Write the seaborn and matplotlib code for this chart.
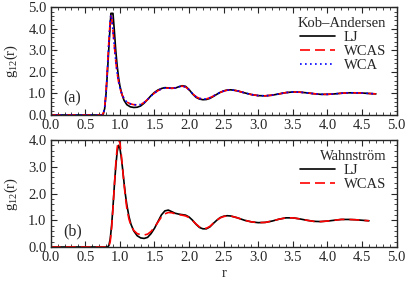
import matplotlib
matplotlib.use("Agg")
import matplotlib.pyplot as plt
import seaborn as sns
from matplotlib.ticker import MultipleLocator, FormatStrFormatter

# Kob-Andersen g_12(r)
r_ka = [0.00, 0.70, 0.74, 0.76, 0.78, 0.80, 0.82, 0.84, 0.86, 0.87, 0.88, 0.89, 0.90,
        0.92, 0.94, 0.96, 0.98, 1.00, 1.03, 1.06, 1.10, 1.15, 1.20, 1.25, 1.30, 1.35,
        1.40, 1.45, 1.50, 1.55, 1.60, 1.65, 1.70, 1.75, 1.80, 1.85, 1.90, 1.95, 2.00,
        2.05, 2.10, 2.15, 2.20, 2.25, 2.30, 2.35, 2.40, 2.45, 2.50, 2.55, 2.60, 2.65,
        2.70, 2.80, 2.90, 3.00, 3.10, 3.20, 3.30, 3.40, 3.50, 3.60, 3.70, 3.80, 3.90,
        4.00, 4.10, 4.20, 4.30, 4.40, 4.50, 4.60, 4.70]
g_ka_lj = [0.00, 0.00, 0.00, 0.05, 0.30, 1.00, 2.00, 3.10, 4.20, 4.72, 4.72, 4.72, 4.72,
           3.90, 3.00, 2.30, 1.75, 1.35, 0.95, 0.68, 0.48, 0.38, 0.35, 0.36, 0.42, 0.55,
           0.72, 0.90, 1.05, 1.16, 1.23, 1.27, 1.26, 1.24, 1.25, 1.31, 1.36, 1.33, 1.18,
           0.98, 0.82, 0.74, 0.71, 0.72, 0.77, 0.86, 0.96, 1.05, 1.12, 1.16, 1.17, 1.15,
           1.12, 1.03, 0.95, 0.90, 0.89, 0.92, 0.98, 1.04, 1.07, 1.06, 1.03, 0.99, 0.96,
           0.96, 0.98, 1.01, 1.03, 1.03, 1.02, 1.00, 0.98]
g_ka_wcas = [0.00, 0.00, 0.00, 0.08, 0.35, 1.10, 2.20, 3.40, 4.40, 4.60, 4.50, 4.25, 3.90,
             3.20, 2.50, 1.95, 1.55, 1.25, 0.95, 0.75, 0.60, 0.52, 0.48, 0.47, 0.49, 0.58,
             0.72, 0.88, 1.02, 1.13, 1.21, 1.25, 1.25, 1.24, 1.26, 1.31, 1.34, 1.30, 1.17,
             0.99, 0.85, 0.77, 0.74, 0.75, 0.80, 0.88, 0.97, 1.05, 1.11, 1.15, 1.16, 1.15,
             1.12, 1.03, 0.95, 0.90, 0.89, 0.92, 0.98, 1.04, 1.07, 1.06, 1.03, 0.99, 0.96,
             0.96, 0.98, 1.01, 1.03, 1.03, 1.02, 1.00, 0.98]
g_ka_wca = [0.00, 0.00, 0.00, 0.07, 0.33, 1.05, 2.15, 3.35, 4.40, 4.65, 4.52, 4.25, 3.90,
            3.20, 2.52, 1.97, 1.57, 1.27, 0.96, 0.76, 0.60, 0.52, 0.48, 0.47, 0.49, 0.58,
            0.72, 0.88, 1.02, 1.13, 1.21, 1.25, 1.25, 1.24, 1.26, 1.31, 1.34, 1.30, 1.17,
            0.99, 0.85, 0.77, 0.74, 0.75, 0.80, 0.88, 0.97, 1.05, 1.11, 1.15, 1.16, 1.15,
            1.12, 1.03, 0.95, 0.90, 0.89, 0.92, 0.98, 1.04, 1.07, 1.06, 1.03, 0.99, 0.96,
            0.96, 0.98, 1.01, 1.03, 1.03, 1.02, 1.00, 0.98]

# Wahnstrom g_12(r)
r_wa = [0.00, 0.80, 0.82, 0.84, 0.86, 0.88, 0.90, 0.92, 0.94, 0.96, 0.98, 1.00, 1.02,
        1.04, 1.06, 1.08, 1.10, 1.13, 1.16, 1.20, 1.25, 1.30, 1.35, 1.40, 1.45, 1.50,
        1.55, 1.60, 1.65, 1.70, 1.75, 1.80, 1.85, 1.90, 1.95, 2.00, 2.05, 2.10, 2.15,
        2.20, 2.25, 2.30, 2.35, 2.40, 2.45, 2.50, 2.55, 2.60, 2.70, 2.80, 2.90, 3.00,
        3.10, 3.20, 3.30, 3.40, 3.50, 3.60, 3.70, 3.80, 3.90, 4.00, 4.10, 4.20, 4.30,
        4.40, 4.50, 4.60]
g_wa_lj = [0.00, 0.00, 0.00, 0.05, 0.30, 0.80, 1.50, 2.30, 3.00, 3.55, 3.80, 3.70, 3.35,
           2.90, 2.40, 1.95, 1.58, 1.15, 0.85, 0.60, 0.42, 0.34, 0.32, 0.36, 0.50, 0.70,
           0.95, 1.20, 1.35, 1.38, 1.32, 1.26, 1.23, 1.21, 1.19, 1.12, 1.00, 0.85, 0.73,
           0.68, 0.68, 0.75, 0.88, 1.00, 1.10, 1.15, 1.17, 1.16, 1.09, 1.00, 0.94, 0.91,
           0.92, 0.97, 1.04, 1.09, 1.09, 1.05, 1.00, 0.96, 0.95, 0.97, 1.00, 1.03, 1.03,
           1.02, 1.00, 0.98]
g_wa_wcas = [0.00, 0.00, 0.00, 0.02, 0.20, 0.70, 1.45, 2.30, 3.10, 3.70, 4.00, 3.90, 3.45,
             2.90, 2.35, 1.85, 1.45, 1.05, 0.80, 0.62, 0.50, 0.46, 0.45, 0.48, 0.58, 0.74,
             0.93, 1.12, 1.24, 1.29, 1.28, 1.24, 1.21, 1.19, 1.16, 1.10, 0.99, 0.86, 0.75,
             0.70, 0.70, 0.77, 0.89, 1.00, 1.09, 1.14, 1.16, 1.16, 1.09, 1.00, 0.94, 0.91,
             0.92, 0.97, 1.04, 1.09, 1.09, 1.05, 1.00, 0.96, 0.95, 0.97, 1.00, 1.03, 1.03,
             1.02, 1.00, 0.98]

sns.set_style("ticks")
plt.rcParams["font.family"] = ["Liberation Serif", "DejaVu Serif"]
plt.rcParams["mathtext.default"] = "regular"
plt.rcParams["axes.linewidth"] = 1.0

fig = plt.figure(figsize=(4.07, 2.83), dpi=100)
ax1 = fig.add_axes([0.1246, 0.5936, 0.850, 0.3806])
ax2 = fig.add_axes([0.1246, 0.1272, 0.850, 0.3781])

lw = 1.2
sns.lineplot(x=r_ka, y=g_ka_lj, ax=ax1, color="black", lw=lw, label="LJ", sort=False)
sns.lineplot(x=r_ka, y=g_ka_wcas, ax=ax1, color="red", lw=lw, label="WCAS", sort=False)
sns.lineplot(x=r_ka, y=g_ka_wca, ax=ax1, color="blue", lw=lw, label="WCA", sort=False)
ax1.lines[1].set_linestyle((0, (6, 3)))
ax1.lines[2].set_linestyle((0, (1, 2)))

sns.lineplot(x=r_wa, y=g_wa_lj, ax=ax2, color="black", lw=lw, label="LJ", sort=False)
sns.lineplot(x=r_wa, y=g_wa_wcas, ax=ax2, color="red", lw=lw, label="WCAS", sort=False)
ax2.lines[1].set_linestyle((0, (6, 3)))

fs = 10.5
for ax, ymax, tag, title in [(ax1, 5.0, "(a)", "Kob\u2013Andersen"), (ax2, 4.0, "(b)", "Wahnstr\u00f6m")]:
    ax.set_xlim(0, 5.0)
    ax.set_ylim(0, ymax)
    ax.xaxis.set_major_locator(MultipleLocator(0.5))
    ax.xaxis.set_minor_locator(MultipleLocator(0.1))
    ax.yaxis.set_major_locator(MultipleLocator(1.0))
    ax.yaxis.set_minor_locator(MultipleLocator(0.2))
    ax.xaxis.set_major_formatter(FormatStrFormatter("%.1f"))
    ax.yaxis.set_major_formatter(FormatStrFormatter("%.1f"))
    ax.tick_params(which="both", direction="in", top=True, right=True, labelsize=fs)
    ax.tick_params(axis="x", pad=3)
    ax.tick_params(axis="y", pad=3)
    ax.tick_params(which="major", length=4, width=0.8)
    ax.tick_params(which="minor", length=2, width=0.6)
    ax.set_ylabel("g$_{12}$(r)", fontsize=fs, labelpad=6)
    ax.text(0.035, 0.15, tag, transform=ax.transAxes, fontsize=fs + 1, va="center")
    leg = ax.legend(title=title, loc="upper right", bbox_to_anchor=(0.995, 0.99),
                    frameon=False, fontsize=fs, title_fontsize=fs,
                    handlelength=2.4, handletextpad=0.6, labelspacing=0.05, borderaxespad=0.2)
    leg._legend_box.align = "right"

ax2.set_xlabel("r", fontsize=fs, labelpad=2)

fig.savefig("out.png", dpi=100)
